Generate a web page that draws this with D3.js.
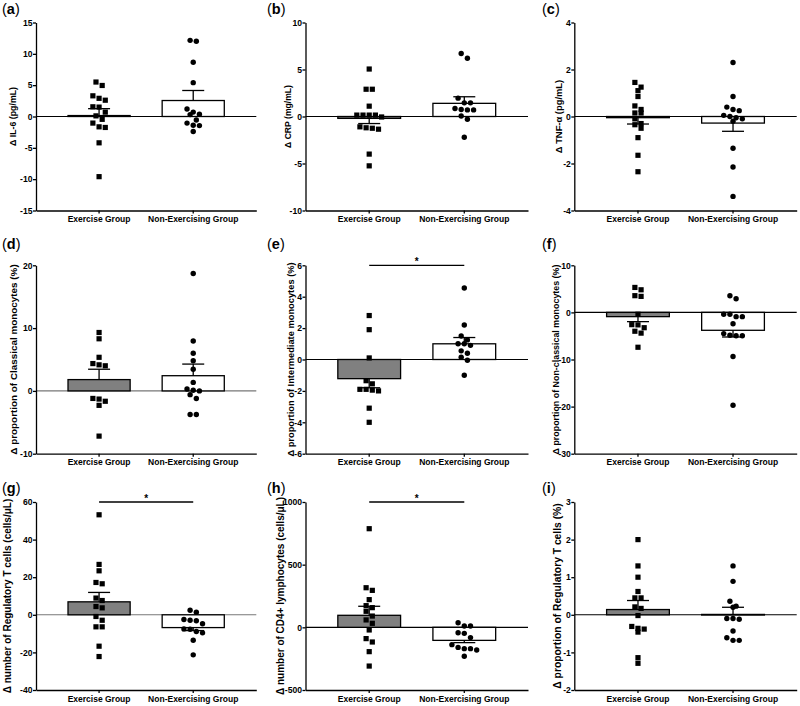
<!DOCTYPE html>
<html><head><meta charset="utf-8">
<script src="https://cdn.jsdelivr.net/npm/d3@7"></script>
<style>body{margin:0;background:#fff} text{font-family:"Liberation Sans",Arial,sans-serif}</style>
</head><body><svg id="c" width="800" height="706"></svg>
<script>
// ---------------- DATA ----------------
const groups = ["Exercise Group", "Non-Exercising Group"];
const panelLetters = ["a","b","c","d","e","f","g","h","i"];
const yTitles = [
  "Δ IL-6 (pg/mL)",
  "Δ CRP (mg/mL)",
  "Δ TNF-α (pg/mL)",
  "Δ proportion of Classical monocytes (%)",
  "Δ proportion of Intermediate monocytes (%)",
  "Δ proportion of Non-classical monocytes (%)",
  "Δ number of Regulatory T cells (cells/μL)",
  "Δ number of CD4+ lymphocytes (cells/μL)",
  "Δ proportion of Regulatory T cells (%)"
];
const yDomains = [[-15,15],[-10,10],[-4,4],[-10,20],[-6,6],[-30,10],[-40,60],[-500,1000],[-2,3]];
const yTicks = [
  [-15,-10,-5,0,5,10,15],
  [-10,-5,0,5,10],
  [-4,-2,0,2,4],
  [-10,0,10,20],
  [-6,-4,-2,0,2,4,6],
  [-30,-20,-10,0,10],
  [-40,-20,0,20,40,60],
  [-500,0,500,1000],
  [-2,-1,0,1,2,3]
];
const exercisePoints = [
  [5.5,4.95,3.3,2.9,2.6,1.55,1.5,0.7,0.1,-0.45,-1.05,-1.75,-1.65,-4.2,-9.6],
  [5.05,2.9,2.9,1.1,0.15,0.15,0.15,0.15,-0.05,-1.1,-1.2,-1.25,-1.35,-4.0,-5.25],
  [1.45,1.25,1.1,0.85,0.45,0.3,0.15,0.15,-0.1,-0.3,-0.35,-0.5,-0.9,-1.65,-2.35],
  [9.3,8.3,5.35,4.15,4.0,4.35,-1.3,-1.2,-1.65,-2.3,-7.2],
  [2.8,1.9,0.1,-1.35,-1.55,-1.9,-2.0,-1.95,-1.9,-3.1,-4.0],
  [5.3,4.8,3.4,3.55,-0.4,-2.65,-2.6,-3.25,-4.0,-4.4,-7.4],
  [53.2,26.8,23.4,16.5,17.2,8.9,7.6,3.7,4.4,-0.9,-2.9,-6.4,-6.4,-16.7,-22.2],
  [787,295,316,221,157,173,128,90,59,32,-21,-90,-117,-194,-309],
  [2.0,1.3,1.0,0.62,0.45,0.45,0.21,0.17,-0.02,-0.31,-0.38,-0.36,-0.46,-1.14,-1.29]
];
const nonExercisePoints = [
  [12.0,12.15,8.65,5.4,1.2,0.7,0.3,0.35,-0.55,-1.05,-1.4,-1.45,-2.4],
  [6.7,6.2,1.95,1.45,1.45,0.85,0.7,0.7,0.75,0.05,-0.3,-2.2],
  [2.3,0.85,0.3,0.4,0.25,0.0,-0.05,0.05,-0.1,-0.2,-1.35,-2.15,-3.4],
  [18.7,7.95,6.0,4.8,3.45,1.35,0.3,0.1,0.0,-0.6,-1.2,-3.75,-3.75],
  [4.55,2.2,1.5,1.25,0.9,1.0,1.0,0.55,0.4,0.15,-0.05,-1.0],
  [3.55,2.9,-0.4,-0.9,-0.9,-0.4,-2.4,-4.95,-4.95,-4.85,-4.5,-9.35,-19.7],
  [2.4,1.4,-2.5,-3.2,-2.9,-4.8,-7.7,-7.5,-9.6,-8.9,-13.5,-21.3],
  [37,11,11,-43,-48,-82,-138,-170,-181,-170,-160,-231],
  [1.3,0.89,0.36,0.23,0.2,-0.1,-0.12,-0.1,-0.43,-0.61,-0.68,-0.68]
];
const exerciseMean = [0.15,-0.2,-0.05,1.8,-1.22,-0.9,6.9,96,0.14];
const exerciseSEM  = [1.1,0.55,0.27,1.65,0.58,1.06,5.0,72,0.24];
const nonExerciseMean = [2.55,1.4,-0.28,2.42,1.0,-3.8,-6.8,-104,0.01];
const nonExerciseSEM  = [1.6,0.7,0.35,1.85,0.4,1.42,1.6,18,0.19];
const significant = [false,false,false,false,true,false,true,true,false];

// ---------------- LAYOUT / STYLE ----------------
const colLeft = [36, 305.5, 574.3], colRight = [256.3, 528, 796.7];
const rowTop = [22.5, 265.3, 502], rowBottom = [210.5, 453.7, 690];
const titleBaseX = [16, 290.5, 561.5, 17, 293.5, 559, 10.5, 284, 561];
const titleSize = [8.8, 8.6, 9.4, 9.9, 9.3, 8.9, 10, 10, 10.3];
const letterX = [2, 267, 542], letterY = [13.6, 248.6, 493];
const zeroColor = ["#000","#000","#000","#777","#000","#000","#777","#000","#000"];
const barFill = ["#808080", "#ffffff"];
const LW = 1.3;

const svg = d3.select("#c");

function swarm(values, y, cx, spacing, thresh) {
  const pts = values.map(v => ({v, py: y(v)})).sort((a,b) => a.py - b.py);
  const out = [];
  let i = 0;
  while (i < pts.length) {
    const row = [pts[i]];
    let j = i + 1;
    while (j < pts.length && pts[j].py - pts[i].py < thresh) { row.push(pts[j]); j++; }
    row.forEach((p, k) => { p.px = cx + (k - (row.length - 1) / 2) * spacing; out.push(p); });
    i = j;
  }
  return out;
}

for (let p = 0; p < 9; p++) {
  const r = Math.floor(p / 3), c = p % 3;
  const L = colLeft[c], R = colRight[c], T = rowTop[r], B = rowBottom[r];
  const g = svg.append("g");

  const x = d3.scaleBand().domain(groups).range([L, R]).paddingInner(0.34).paddingOuter(0.34);
  const y = d3.scaleLinear().domain(yDomains[p]).range([B, T]);

  const lt = g.append("text").attr("x", letterX[c]).attr("y", letterY[r]).attr("font-size", 14.5).attr("fill", "#000");
  lt.append("tspan").text("(");
  lt.append("tspan").attr("font-weight", "bold").text(panelLetters[p]);
  lt.append("tspan").text(")");

  g.append("line").attr("x1", L).attr("x2", R).attr("y1", y(0)).attr("y2", y(0))
    .attr("stroke", zeroColor[p]).attr("stroke-width", 1.1);

  const means = [exerciseMean[p], nonExerciseMean[p]];
  const sems = [exerciseSEM[p], nonExerciseSEM[p]];
  const pts = [exercisePoints[p], nonExercisePoints[p]];

  groups.forEach((gr, k) => {
    const x0 = x(gr), bw = x.bandwidth(), cx = x0 + bw / 2;
    const m = means[k];
    g.append("rect").attr("x", x0).attr("width", bw)
      .attr("y", Math.min(y(0), y(m))).attr("height", Math.max(0.6, Math.abs(y(m) - y(0))))
      .attr("fill", barFill[k]).attr("stroke", "#000").attr("stroke-width", LW);
    const e = m >= 0 ? m + sems[k] : m - sems[k];
    g.append("line").attr("x1", cx).attr("x2", cx).attr("y1", y(m)).attr("y2", y(e))
      .attr("stroke", "#000").attr("stroke-width", LW);
    g.append("line").attr("x1", cx - 11).attr("x2", cx + 11).attr("y1", y(e)).attr("y2", y(e))
      .attr("stroke", "#000").attr("stroke-width", LW);
  });

  groups.forEach((gr, k) => {
    const cx = x(gr) + x.bandwidth() / 2;
    const s = swarm(pts[k], y, cx, 6.2, 5.5);
    if (k === 0) {
      g.selectAll(null).data(s).enter().append("rect")
        .attr("x", d => d.px - 2.6).attr("y", d => d.py - 2.6)
        .attr("width", 5.2).attr("height", 5.2).attr("fill", "#000");
    } else {
      g.selectAll(null).data(s).enter().append("circle")
        .attr("cx", d => d.px).attr("cy", d => d.py).attr("r", 2.7).attr("fill", "#000");
    }
  });

  const ya = g.append("g").attr("transform", `translate(${L},0)`)
    .call(d3.axisLeft(y).tickValues(yTicks[p]).tickSize(3).tickSizeOuter(0).tickPadding(0.5).tickFormat(d => String(d)));
  ya.selectAll("text").attr("font-size", 8.6).attr("font-weight", "bold").attr("fill", "#000")
    .attr("font-family", '"Liberation Sans",Arial,sans-serif');
  ya.select(".domain").attr("stroke-width", LW);
  ya.selectAll(".tick line").attr("stroke-width", LW);

  const xa = g.append("g").attr("transform", `translate(0,${B})`)
    .call(d3.axisBottom(x).tickSize(3).tickSizeOuter(0).tickPadding(2.5));
  xa.selectAll("text").attr("font-size", 8.5).attr("font-weight", "bold").attr("fill", "#000")
    .attr("font-family", '"Liberation Sans",Arial,sans-serif');
  xa.select(".domain").attr("stroke-width", LW);
  xa.selectAll(".tick line").attr("stroke-width", LW);

  g.append("text").attr("transform", `translate(${titleBaseX[p]},${(T + B) / 2}) rotate(-90)`)
    .attr("text-anchor", "middle").attr("font-size", titleSize[p]).attr("font-weight", "bold").attr("fill", "#000")
    .text(yTitles[p]);

  if (significant[p]) {
    const c1 = x(groups[0]) + x.bandwidth() / 2, c2 = x(groups[1]) + x.bandwidth() / 2;
    g.append("line").attr("x1", c1).attr("x2", c2).attr("y1", T).attr("y2", T)
      .attr("stroke", "#000").attr("stroke-width", LW);
    g.append("text").attr("x", (c1 + c2) / 2).attr("y", T - 0.5).attr("text-anchor", "middle")
      .attr("font-size", 10).attr("font-weight", "bold").text("*");
  }
}
</script></body></html>
